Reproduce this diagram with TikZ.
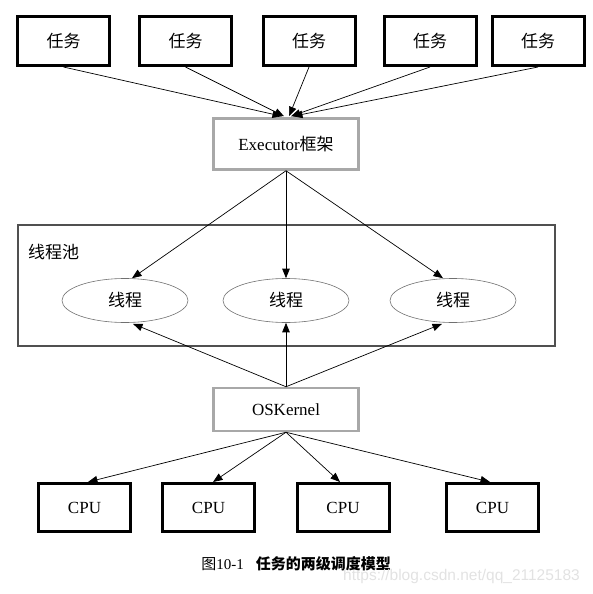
\documentclass[tikz,border=0pt]{standalone}
\usepackage{fontspec}
\setmainfont{Liberation Serif}
\newfontfamily\cjk{Noto Sans CJK SC}
\newfontfamily\wmfont{Liberation Sans}
\usetikzlibrary{arrows.meta,shapes.geometric}
\definecolor{boxgray}{HTML}{A8A8A8}
\definecolor{poolgray}{HTML}{505050}
\definecolor{ellgray}{HTML}{707070}
\definecolor{wmgray}{HTML}{E2E2E2}
\begin{document}
\begin{tikzpicture}[x=1pt,y=-1pt,
  taskbox/.style={draw=black,line width=3pt,minimum width=92pt,minimum height=49pt,inner sep=0pt,font=\fontsize{17}{17}\selectfont\cjk},
  cpubox/.style={draw=black,line width=3pt,minimum width=92pt,minimum height=48pt,inner sep=0pt,font=\fontsize{17}{17}\selectfont},
  graybox/.style={draw=boxgray,line width=2.5pt,inner sep=0pt,font=\fontsize{17}{17}\selectfont},
  poolbox/.style={draw=poolgray,line width=2.5pt,minimum width=537pt,minimum height=121pt,inner sep=0pt},
  thread/.style={draw=ellgray,line width=0.6pt,ellipse,minimum width=126pt,minimum height=44pt,inner sep=0pt,font=\fontsize{17}{17}\selectfont\cjk},
  conn/.style={line width=0.7pt,-{Triangle[length=9.5pt,width=7.5pt]}}
]
\useasboundingbox (0,0) rectangle (593,594);

% tasks
\node[taskbox] (t1) at (63.5,41) {任务};
\node[taskbox] (t2) at (185.5,41) {任务};
\node[taskbox] (t3) at (309,41) {任务};
\node[taskbox] (t4) at (430,41) {任务};
\node[taskbox] (t5) at (538,41) {任务};

% executor
\node[graybox,minimum width=145pt,minimum height=51pt] (exec) at (286,144) {Executor{\cjk 框架}};

% pool
\node[poolbox] (pool) at (286.5,285.5) {};
\node[anchor=west,inner sep=0pt,font=\fontsize{17}{17}\selectfont\cjk] (poollabel) at (28,252) {线程池};
\node[thread] (e1) at (125,300.5) {线程};
\node[thread] (e2) at (286,300.5) {线程};
\node[thread] (e3) at (453,300.5) {线程};

% OS kernel
\node[graybox,minimum width=145pt,minimum height=43pt] (os) at (286,409.5) {OSKernel};

% CPUs
\node[cpubox] (c1) at (84.5,507.5) {CPU};
\node[cpubox] (c2) at (208.5,507.5) {CPU};
\node[cpubox] (c3) at (343,507.5) {CPU};
\node[cpubox] (c4) at (492.5,507.5) {CPU};

% caption and watermark
\node[inner sep=0pt,font=\fontsize{15}{15}\selectfont] (cap) at (296,564) {{\cjk 图}10-1\hspace{0.8em}{\cjk\bfseries 任务的两级调度模型}};
\node[inner sep=0pt,text=wmgray,font=\fontsize{15.5}{15.5}\selectfont\wmfont] (wm) at (461.5,576) {https://blog.csdn.net/qq\_21125183};

% connectors tasks -> executor
\draw[conn] (t1.south) -- ([xshift=-4pt,yshift=1pt]exec.north);
\draw[conn] (t2.south) -- ([xshift=-2pt,yshift=1pt]exec.north);
\draw[conn] (t3.south) -- ([xshift=3pt,yshift=1pt]exec.north);
\draw[conn] (t4.south) -- ([xshift=5pt,yshift=1pt]exec.north);
\draw[conn] (t5.south) -- ([xshift=7pt,yshift=1pt]exec.north);

% executor -> threads
\draw[conn] (exec.south) -- ([xshift=7pt]e1.north);
\draw[conn] (exec.south) -- (e2.north);
\draw[conn] (exec.south) -- ([xshift=-10pt]e3.north);

% OS -> threads
\draw[conn] (os.north) -- ([xshift=8pt,yshift=-1pt]e1.south);
\draw[conn] (os.north) -- (e2.south);
\draw[conn] (os.north) -- ([xshift=-11pt,yshift=-1pt]e3.south);

% OS -> CPUs
\draw[conn] (os.south) -- ([xshift=3.5pt]c1.north);
\draw[conn] (os.south) -- ([xshift=4.5pt]c2.north);
\draw[conn] (os.south) -- ([xshift=-3pt]c3.north);
\draw[conn] (os.south) -- ([xshift=-2.5pt]c4.north);
\end{tikzpicture}
\end{document}
